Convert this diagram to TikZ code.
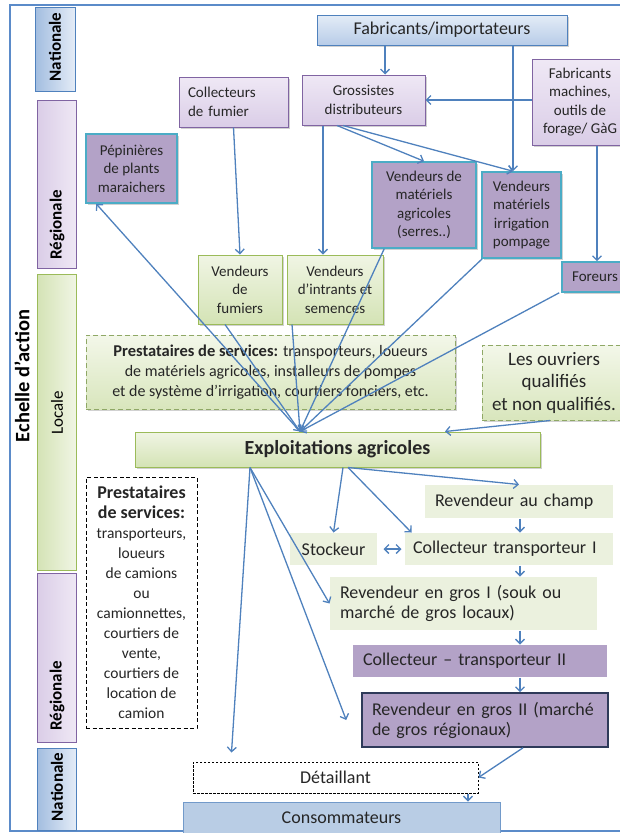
\documentclass[tikz,border=0pt]{standalone}
\usepackage{fontspec}
\setmainfont{Carlito}
\usetikzlibrary{arrows.meta,shadows}
\definecolor{ablue}{HTML}{4F81BD}
\definecolor{frameblue}{HTML}{5B8BC9}
\definecolor{gborder}{HTML}{9BBB59}
\definecolor{gdash}{HTML}{8FA866}
\definecolor{gtop}{HTML}{F0F5E4}
\definecolor{gbot}{HTML}{D4E3B5}
\definecolor{gflat}{HTML}{EBF1DE}
\definecolor{ptop}{HTML}{EFE8F5}
\definecolor{pbot}{HTML}{DACDE7}
\definecolor{pborder}{HTML}{8064A2}
\definecolor{pdark}{HTML}{B3A2C7}
\definecolor{teal}{HTML}{4BACC6}
\definecolor{navy}{HTML}{2E3A59}
\definecolor{btop}{HTML}{E4ECF7}
\definecolor{bbot}{HTML}{B7CCE8}
\definecolor{conso}{HTML}{B9CDE5}
\definecolor{txt}{HTML}{262626}
\begin{document}
\begin{tikzpicture}[x=1pt,y=-1pt,
  every node/.style={text=txt},
  shad/.style={drop shadow={shadow xshift=1.5pt,shadow yshift=-1.5pt,opacity=0.3,fill=black!60}},
  bx/.style={inner sep=2pt, align=center, line width=1pt},
  bluebox/.style={bx, draw=ablue, top color=btop, bottom color=bbot, shad},
  lpurple/.style={bx, draw=pborder, top color=ptop, bottom color=pbot, shad},
  dpurple/.style={bx, draw=teal, line width=1.6pt, fill=pdark, shad},
  greenbox/.style={bx, draw=gborder, top color=gtop, bottom color=gbot, shad},
  gdashed/.style={bx, draw=gdash, dashed, dash pattern=on 5pt off 3pt, top color=gtop!80!white, bottom color=gbot!90!white, shad},
  flatg/.style={bx, fill=gflat},
  leftbox/.style={align=left, inner xsep=10pt},
  small/.style={font=\fontsize{15}{18.5}\selectfont},
  big/.style={font=\fontsize{18}{20}\selectfont},
  barlabel/.style={rotate=90, font=\fontsize{17}{20}\selectfont\bfseries, text=black},
  arr/.style={draw=ablue, line width=1.3pt, -{Straight Barb[length=4.5pt,width=9pt]}},
  darr/.style={draw=ablue, line width=1.3pt, {Straight Barb[length=4.5pt,width=9pt]}-{Straight Barb[length=4.5pt,width=9pt]}}
]
\useasboundingbox (0,0) rectangle (619,833);
% frame
\draw[frameblue, line width=1.2pt] (10,5) rectangle (660,831);

% scale bars
\node[draw=ablue, line width=1pt, left color=bbot!80!ablue, right color=btop, minimum width=40pt, minimum height=84pt, inner sep=0pt] (nat1) at (55,49) {};
\node[draw=pborder, line width=1pt, left color=pbot, right color=ptop, minimum width=39pt, minimum height=168pt, inner sep=0pt] (reg1) at (56.5,184) {};
\node[draw=gborder, line width=1pt, left color=gbot, right color=gtop, minimum width=39pt, minimum height=296pt, inner sep=0pt] (loc) at (56.5,422) {};
\node[draw=pborder, line width=1pt, left color=pbot, right color=ptop, minimum width=39pt, minimum height=169pt, inner sep=0pt] (reg2) at (56.5,657.5) {};
\node[draw=ablue, line width=1pt, left color=bbot!80!ablue, right color=btop, minimum width=39pt, minimum height=82pt, inner sep=0pt] (nat2) at (56.5,789) {};
\node[barlabel] (lnat1) at (55,47) {Nationale};
\node[barlabel] (lreg1) at (57,225) {Régionale};
\node[barlabel, font=\fontsize{17}{20}\selectfont] (lloc) at (57,413) {Locale};
\node[barlabel] (lreg2) at (57,696) {Régionale};
\node[barlabel] (lnat2) at (57,787) {Nationale};
\node[rotate=90, font=\fontsize{20.5}{22}\selectfont\bfseries, text=black] (echelle) at (22,376) {Echelle d’action};

% top nodes
\node[bluebox, minimum width=250pt, minimum height=30pt, font=\fontsize{18}{20}\selectfont] (fabimp) at (442,30) {Fabricants/importateurs};
\node[lpurple, small, minimum width=109pt, minimum height=50pt, text width=91pt, align=left, inner xsep=9pt] (collfum) at (233.5,102) {Collecteurs\\de fumier};
\node[lpurple, small, minimum width=123pt, minimum height=50pt] (gross) at (363.5,100) {Grossistes\\distributeurs};
\node[lpurple, small, minimum width=96pt, minimum height=86pt] (fabmach) at (580,102) {Fabricants\\machines,\\outils de\\forage/ GàG};
\node[dpurple, small, minimum width=91pt, minimum height=69pt] (pepin) at (131.5,168.5) {Pépinières\\de plants\\maraichers};
\node[dpurple, small, minimum width=104pt, minimum height=86pt] (vmatagri) at (424,205) {Vendeurs de\\matériels\\agricoles\\(serres..)};
\node[dpurple, small, minimum width=79pt, minimum height=86pt] (virrig) at (521.5,215) {Vendeurs\\matériels\\irrigation\\pompage};
\node[dpurple, small, minimum width=66pt, minimum height=30pt, inner xsep=0pt] (foreurs) at (595,277) {Foreurs};
\node[greenbox, small, minimum width=84pt, minimum height=69pt] (vfum) at (240,289.5) {Vendeurs\\de\\fumiers};
\node[greenbox, small, minimum width=96pt, minimum height=69pt] (vintr) at (335,289.5) {Vendeurs\\d’intrants et\\semences};

% local level
\node[gdashed, minimum width=369pt, minimum height=74pt, font=\fontsize{16}{20}\selectfont] (prest1) at (270.5,372) {{\fontsize{16.5}{20}\selectfont\bfseries Prestataires de services:} transporteurs, loueurs\\de matériels agricoles, installeurs de pompes\\et de système d’irrigation, courtiers fonciers, etc.};
\node[gdashed, minimum width=144pt, minimum height=75pt, font=\fontsize{19}{22.5}\selectfont] (ouvriers) at (554,382.5) {Les ouvriers\\qualifiés\\et non qualifiés.};
\node[greenbox, minimum width=405pt, minimum height=35pt, font=\fontsize{20}{22}\selectfont\bfseries] (exploit) at (337.5,449.5) {Exploitations agricoles};

% lower part
\node[bx, draw=black, dashed, dash pattern=on 4pt off 2.5pt, fill=white, minimum width=111pt, minimum height=251pt, font=\fontsize{15.5}{20}\selectfont] (prest2) at (141.5,602.5) {{\fontsize{18}{20}\selectfont\bfseries Prestataires}\\{\fontsize{18}{20}\selectfont\bfseries de services:}\\transporteurs,\\loueurs\\de camions\\ou\\camionnettes,\\courtiers de\\vente,\\courtiers de\\location de\\camion};
\node[flatg, big, leftbox, minimum width=188pt, minimum height=33pt, text width=168pt] (revchamp) at (519,501.5) {Revendeur au champ};
\node[flatg, big, minimum width=87pt, minimum height=32pt] (stock) at (333.5,549) {Stockeur};
\node[flatg, big, leftbox, minimum width=208pt, minimum height=32pt, text width=192pt, inner xsep=8pt] (coll1) at (509,549) {Collecteur transporteur I};
\node[flatg, big, leftbox, minimum width=267pt, minimum height=53pt, text width=247pt] (revgros1) at (463.5,603.5) {Revendeur en gros I (souk ou\\marché de gros locaux)};
\node[bx, fill=pdark, big, leftbox, minimum width=254pt, minimum height=32pt, text width=234pt] (coll2) at (480,661) {Collecteur – transporteur II};
\node[bx, fill=pdark, draw=navy, line width=1.6pt, big, leftbox, minimum width=246pt, minimum height=54pt, text width=226pt] (revgros2) at (485,720) {Revendeur en gros II (marché\\de gros régionaux)};
\node[bx, draw=black, dashed, dash pattern=on 2.5pt off 1.5pt, fill=white, big, minimum width=285pt, minimum height=31pt] (detail) at (335.5,777.5) {Détaillant};
\node[bx, draw=ablue!80, fill=conso, big, minimum width=317pt, minimum height=32pt] (conso) at (341.5,818) {Consommateurs};

% upper connectors
\draw[arr] ([xshift=-57pt]fabimp.south) -- ([xshift=21.5pt]gross.north);
\draw[arr] ([xshift=71pt]fabimp.south) -- ([xshift=-8.5pt]virrig.north);
\draw[arr] ([yshift=2pt]fabmach.west) -- (gross.east);
\draw[arr] ([xshift=-40.5pt]gross.south) -- ([xshift=-12pt]vintr.north);
\draw[arr] ([xshift=-26.5pt]gross.south) -- (vmatagri.north);
\draw[arr] ([xshift=-20.5pt]gross.south) -- ([xshift=-8.5pt]virrig.north);
\draw[arr] ([xshift=17pt]fabmach.south) -- ([xshift=2pt]foreurs.north);
\draw[arr] (collfum.south) -- (vfum.north);

% converging on Exploitations
\coordinate (P) at ([xshift=-37.5pt]exploit.north);
\draw[arr] ([xshift=-15pt]vfum.south) -- (P);
\draw[arr] ([xshift=-43pt]vintr.south) -- (P);
\draw[arr] ([xshift=13pt]vmatagri.south west) -- (P);
\draw[arr] ([xshift=1pt]virrig.south west) -- (P);
\draw[arr] ([xshift=-2pt]foreurs.south west) -- (P);
\draw[arr] (P) -- ([xshift=11pt]pepin.south west);
\draw[arr] ([xshift=-4pt]ouvriers.south) -- ([xshift=107.5pt]exploit.north);

% lower connectors
\draw[arr] ([xshift=10.5pt]exploit.south) -- (revchamp.north);
\draw[arr] ([xshift=5.5pt]exploit.south) -- (stock.north);
\draw[arr] ([xshift=10.5pt]exploit.south) -- ([xshift=7pt]coll1.north west);
\draw[darr] ([xshift=6pt]stock.east) -- ([xshift=-3pt]coll1.west);
\draw[arr] ([xshift=1pt]revchamp.south) -- ([xshift=11pt]coll1.north);
\draw[arr] ([xshift=11pt]coll1.south) -- ([xshift=56.5pt]revgros1.north);
\draw[arr] ([xshift=56.5pt]revgros1.south) -- ([xshift=40pt]coll2.north);
\draw[arr] ([xshift=40pt]coll2.south) -- ([xshift=35pt]revgros2.north);
\draw[arr] ([xshift=38pt]revgros2.south) -- (detail.east);
\draw[arr] ([xshift=132.5pt]detail.south) -- ([xshift=126.5pt]conso.north);
\coordinate (R) at ([xshift=-87.5pt]exploit.south);
\draw[arr] (R) -- (revgros1.west);
\draw[arr] (R) -- ([xshift=-15pt]revgros2.west);
\draw[arr] (R) -- ([xshift=39pt,yshift=9pt]detail.north west);
\end{tikzpicture}
\end{document}
